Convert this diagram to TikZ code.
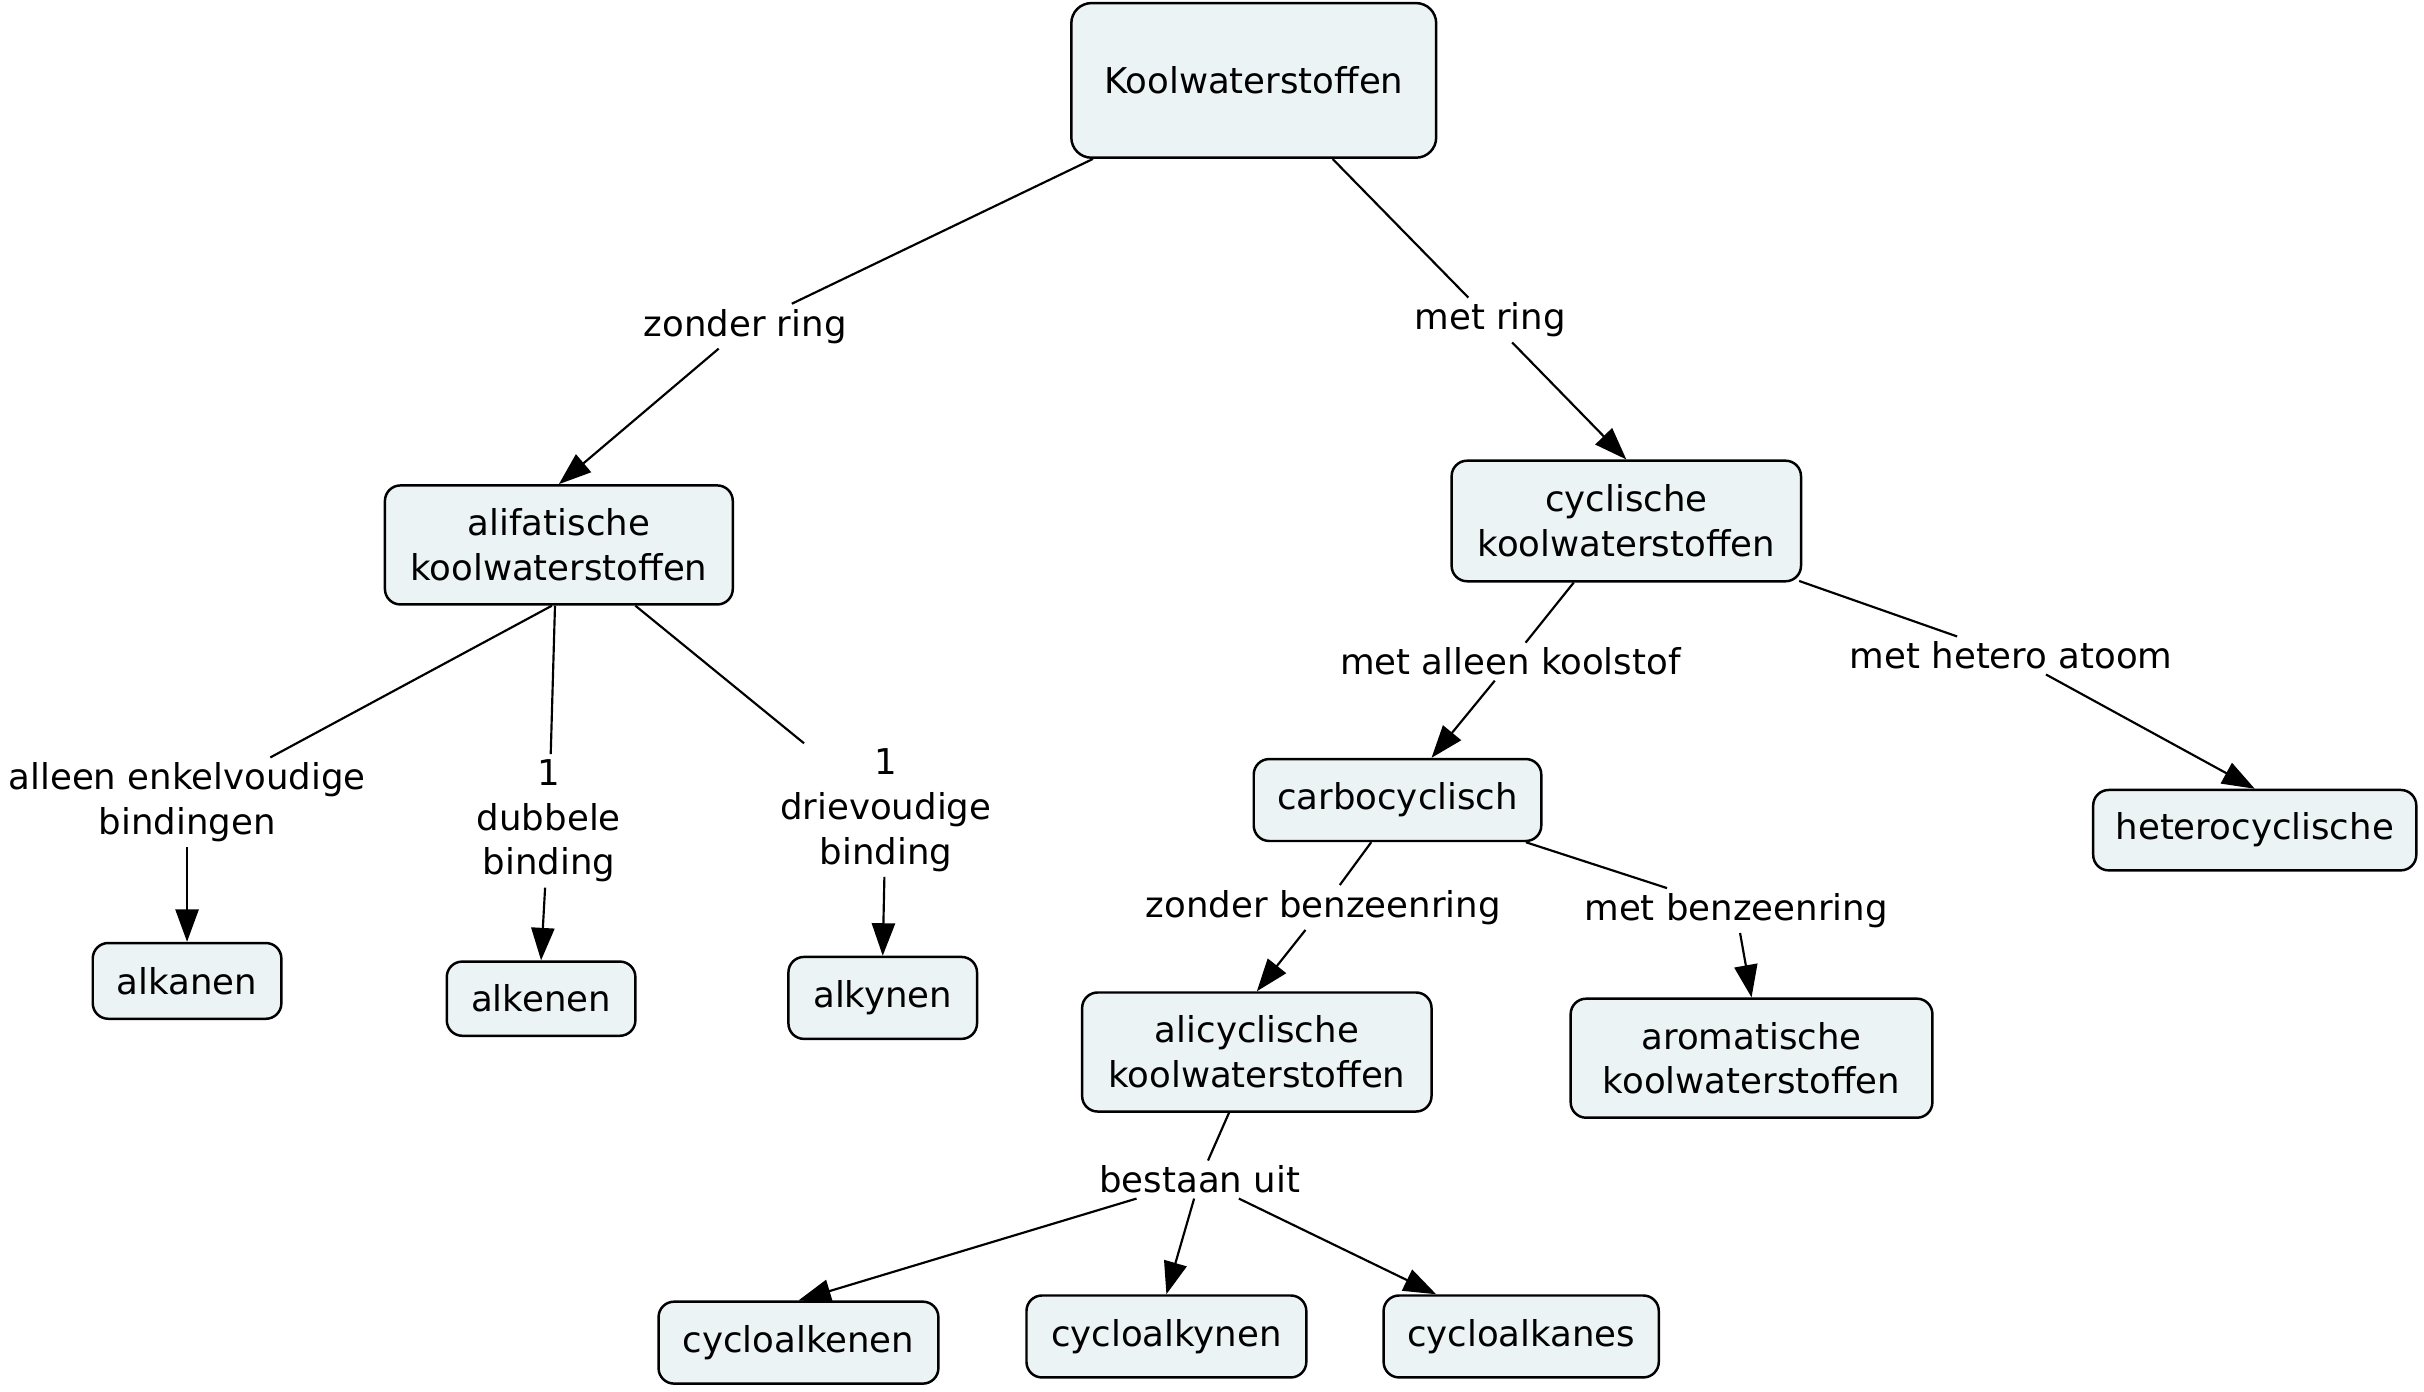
\documentclass[tikz,border=0pt]{standalone}
\usepackage{fontspec}
\setmainfont{DejaVu Sans}
\usetikzlibrary{arrows.meta,calc}
\definecolor{boxfill}{RGB}{235,243,245}
\begin{document}
\begin{tikzpicture}[x=0.5pt,y=-0.5pt, font=\fontsize{11.5}{14.5}\selectfont,
 box/.style={draw, line width=0.8pt, rounded corners=5pt, fill=boxfill, align=center, inner sep=0pt},
 lab/.style={align=center, inner sep=1.5pt},
 link/.style={line width=0.7pt},
 arr/.style={line width=0.7pt, -{Triangle[length=10.5pt,width=7.5pt]}}]
\useasboundingbox (0,0) rectangle (1568,899.8);
% concepts
\node[box, minimum width=118pt, minimum height=50pt, rounded corners=6.5pt] (kw) at (811,52) {Koolwaterstoffen};
\node[box, minimum width=112.5pt, minimum height=38.5pt] (alif) at (361.5,352.5) {alifatische\\koolwaterstoffen};
\node[box, minimum width=113pt, minimum height=39pt] (cyc) at (1052,337) {cyclische\\koolwaterstoffen};
\node[box, minimum width=93pt, minimum height=26.5pt] (carbo) at (904,517.5) {carbocyclisch};
\node[box, minimum width=104.5pt, minimum height=26pt] (hetero) at (1458.5,537) {heterocyclische};
\node[box, minimum width=61pt, minimum height=24.5pt] (alkanen) at (121,634.5) {alkanen};
\node[box, minimum width=61pt, minimum height=24pt] (alkenen) at (350,646) {alkenen};
\node[box, minimum width=61pt, minimum height=26.5pt] (alkynen) at (571,645.5) {alkynen};
\node[box, minimum width=113pt, minimum height=38.5pt] (alicyc) at (813,680.5) {alicyclische\\koolwaterstoffen};
\node[box, minimum width=117pt, minimum height=38.5pt] (arom) at (1133,684.5) {aromatische\\koolwaterstoffen};
\node[box, minimum width=90.5pt, minimum height=26.5pt] (ckenen) at (516.5,868.5) {cycloalkenen};
\node[box, minimum width=90.5pt, minimum height=26.5pt] (ckynen) at (754.5,864.5) {cycloalkynen};
\node[box, minimum width=89pt, minimum height=26.5pt] (ckanes) at (984,864.5) {cycloalkanes};
% linking phrases
\node[lab] (zr) at (482,211) {zonder ring};
\node[lab] (mr) at (964,207) {met ring};
\node[lab] (mak) at (977,428) {met alleen koolstof};
\node[lab] (mha) at (1301,424) {met hetero atoom};
\node[lab] (aeb) at (121,519) {alleen enkelvoudige\\bindingen};
\node[lab] (ddb) at (355,531) {1\\dubbele\\binding};
\node[lab] (drb) at (573,524) {1\\drievoudige\\binding};
\node[lab] (zb) at (856,587) {zonder benzeenring};
\node[lab] (mb) at (1123,589) {met benzeenring};
\node[lab] (bu) at (776,763) {bestaan uit};
% connectors
\draw[link] ($(kw.south)+(-104,0)$) -- (zr);
\draw[arr] (zr) -- (alif.north);
\draw[link] ($(kw.south)+(51,0)$) -- (mr);
\draw[arr] (mr) -- (cyc.north);
\draw[link] ($(alif.south)+(-4.5,0)$) -- (aeb);
\draw[arr] (aeb) -- (alkanen.north);
\draw[link] ($(alif.south)+(-2.5,0)$) -- (ddb);
\draw[arr] (ddb) -- (alkenen.north);
\draw[link] ($(alif.south)+(49.5,0)$) -- (drb);
\draw[arr] (drb) -- (alkynen.north);
\draw[link] ($(cyc.south)+(-34,0)$) -- (mak);
\draw[arr] (mak) -- ($(carbo.north)+(22,0)$);
\draw[link] ($(cyc.south east)+(-2,-1)$) -- (mha);
\draw[arr] (mha) -- (hetero.north);
\draw[link] ($(carbo.south)+(-17,0)$) -- (zb);
\draw[arr] (zb) -- (alicyc.north);
\draw[link] ($(carbo.south)+(83,0)$) -- (mb);
\draw[arr] (mb) -- (arom.north);
\draw[link] ($(alicyc.south)+(-18,0)$) -- (bu);
\draw[arr] (bu) -- (ckenen.north);
\draw[arr] (bu) -- (ckynen.north);
\draw[arr] (bu) -- ($(ckanes.north)+(-55,0)$);
\end{tikzpicture}
\end{document}
